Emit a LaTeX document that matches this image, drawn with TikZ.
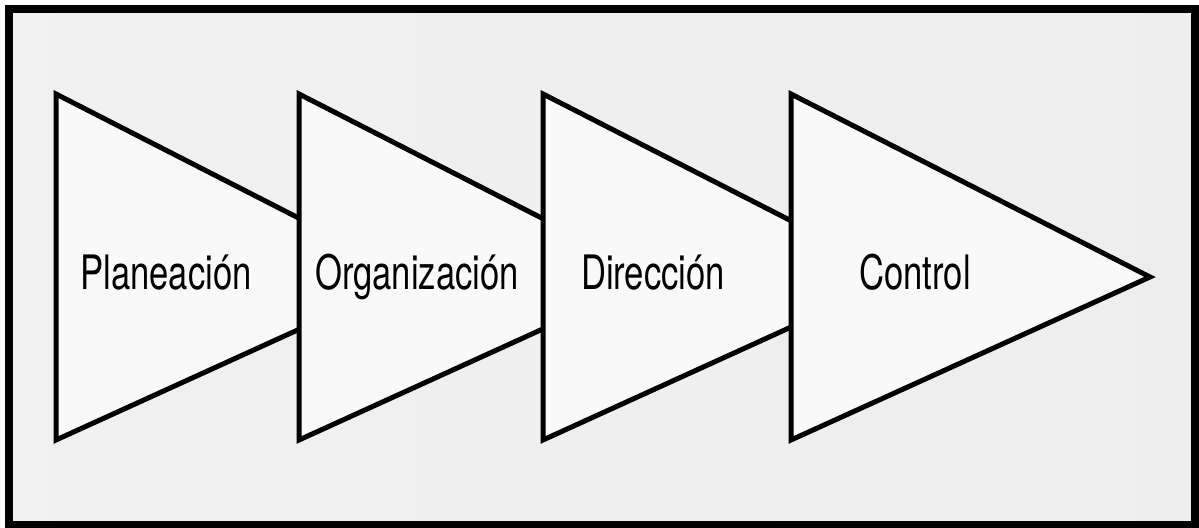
\documentclass[tikz,border=0pt]{standalone}
\usepackage{fontspec}
\setmainfont{TeX Gyre Heros}
\usetikzlibrary{positioning}

\pgfdeclarehorizontalshading{escaneo}{100bp}{color(0bp)=(gray!10); color(78bp)=(gray!14); color(100bp)=(gray!50)}
\newcommand{\angosto}[1]{\scalebox{0.73}[1]{#1}}

\begin{document}
\begin{tikzpicture}[x=0.2mm, y=-0.2mm,
  etapa/.style={draw=black, fill=gray!5, line width=1mm, line join=miter},
  rotulo/.style={font=\fontsize{27}{30}\selectfont, inner sep=0pt, anchor=base}]
\useasboundingbox (0,0) rectangle (1199,528);
\fill[white] (0,0) rectangle (1199,528);
\shade[shading=escaneo] (9,9) rectangle (1195,525);
\draw[line width=1.6mm] (9,9) rectangle (1195,525);

\filldraw[etapa] (56,94) -- (414,277) -- (56,440) -- cycle;
\filldraw[etapa] (299,94) -- (657,277) -- (299,440) -- cycle;
\filldraw[etapa] (543,94) -- (901,277) -- (543,440) -- cycle;
\filldraw[etapa] (791,94) -- (1150,277) -- (791,440) -- cycle;

\node[rotulo] (plan) at (166,290) {\angosto{Planeación}};
\node[rotulo] (orga) at (417,290) {\angosto{Organización}};
\node[rotulo] (dire) at (653,290) {\angosto{Dirección}};
\node[rotulo] (cont) at (915,290) {\angosto{Control}};
%
\end{tikzpicture}
\end{document}
